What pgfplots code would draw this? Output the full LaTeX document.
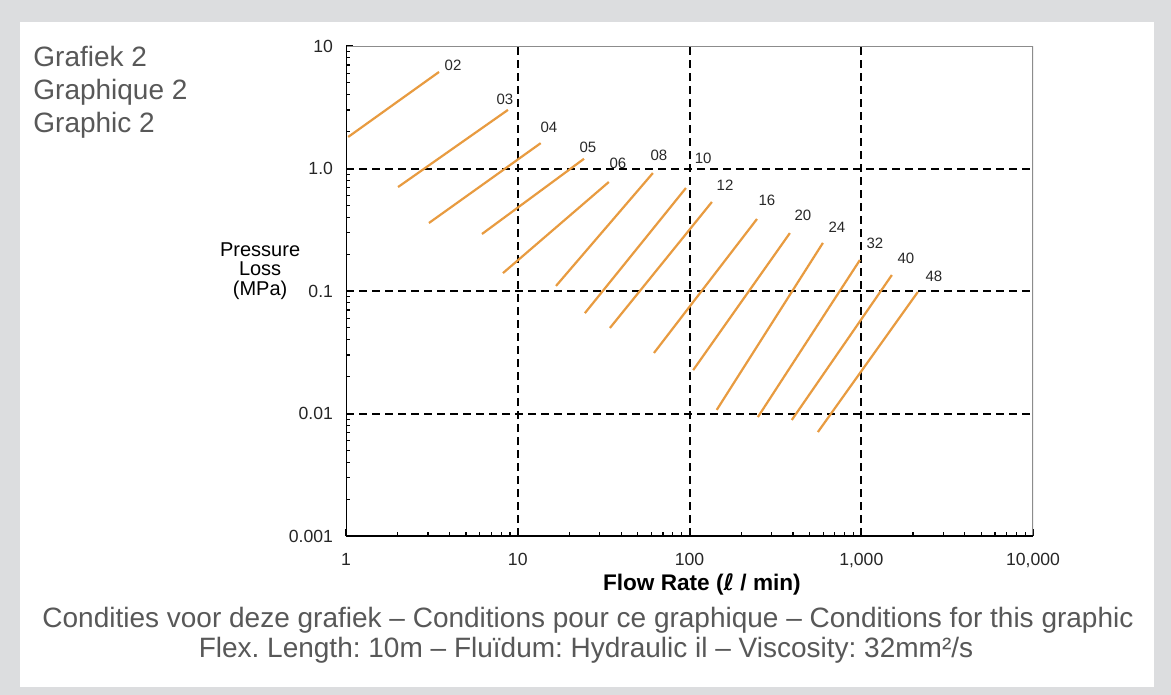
\documentclass[border=0pt]{standalone}
\usepackage{fontspec}
\setmainfont{Liberation Sans}
\newfontfamily\dejavu{DejaVu Sans}
\usepackage{pgfplots}
\pgfplotsset{compat=1.18}
\frenchspacing

\definecolor{hose}{RGB}{232,155,64}
\definecolor{framegray}{RGB}{220,221,223}
\definecolor{txt}{RGB}{88,88,88}
\definecolor{lbl}{RGB}{40,40,40}
\pgfplotsset{hoseline/.style={hose, line width=1.1pt, solid, mark=none}}

\begin{document}
\begin{tikzpicture}[lab/.style={font=\fontsize{7.5}{8}\selectfont, text=lbl, inner sep=0pt}]
% frame around the whole graphic
\fill[framegray] (0pt,0pt) rectangle (585.5pt,347.5pt);
\fill[white] (10pt,4pt) rectangle (577pt,336.5pt);

\node[anchor=base west, txt, font=\fontsize{14}{16}\selectfont, inner sep=0pt] at (16.5pt,314pt) {Grafiek 2};
\node[anchor=base west, txt, font=\fontsize{14}{16}\selectfont, inner sep=0pt] at (16.5pt,297.5pt) {Graphique 2};
\node[anchor=base west, txt, font=\fontsize{14}{16}\selectfont, inner sep=0pt] at (16.5pt,281pt) {Graphic 2};

\begin{axis}[
    at={(173pt,79.5pt)}, anchor=south west,
    scale only axis, width=343.5pt, height=245pt,
    xmode=log, ymode=log,
    xmin=1, xmax=10000, ymin=0.001, ymax=10,
    axis line style={draw=none},
    tick pos=left,
    xtick={1,10,100,1000,10000},
    xticklabels={1,10,100,{1,000},{10,000}},
    ytick={0.001,0.01,0.1,1,10},
    yticklabels={0.001,0.01,0.1,1.0,10},
    minor xtick={2,3,4,5,6,7,8,9,20,30,40,50,60,70,80,90,200,300,400,500,600,700,800,900,2000,3000,4000,5000,6000,7000,8000,9000},
    minor ytick={0.002,0.003,0.004,0.005,0.006,0.007,0.008,0.009,0.02,0.03,0.04,0.05,0.06,0.07,0.08,0.09,0.2,0.3,0.4,0.5,0.6,0.7,0.8,0.9,2,3,4,5,6,7,8,9},
    extra x ticks={10,100,1000}, extra x tick labels={},
    extra y ticks={0.01,0.1,1}, extra y tick labels={},
    extra tick style={grid=major},
    major grid style={black, line width=1pt, dash pattern=on 4pt off 2.5pt},
    tick style={black, line width=0.6pt},
    major tick length=3.5pt, minor tick length=2pt,
    ticklabel style={font=\fontsize{8.8}{10}\selectfont, text=black!85},
    xticklabel style={yshift=-5pt},
    yticklabel style={xshift=-3pt},
    xlabel={\textbf{Flow Rate ({\dejavu\bfseries ℓ} / min)}},
    xlabel style={at={(rel axis cs:0.518,0)}, anchor=center, yshift=-24pt, font=\fontsize{11.3}{13}\selectfont},
    ylabel={Pressure\\Loss\\(MPa)},
    ylabel style={at={(rel axis cs:-0.125,0.541)}, anchor=center, rotate=-90, align=center, font=\fontsize{10}{9.8}\selectfont},
]
\addplot[hoseline] coordinates {(1.03,1.81) (3.48,6.14)};     % 02
\addplot[hoseline] coordinates {(2.01,0.706) (8.77,3.01)};    % 03
\addplot[hoseline] coordinates {(3.04,0.359) (13.6,1.61)};    % 04
\addplot[hoseline] coordinates {(6.19,0.292) (24.3,1.20)};    % 05
\addplot[hoseline] coordinates {(8.20,0.140) (33.9,0.776)};   % 06
\addplot[hoseline] coordinates {(16.7,0.110) (61.2,0.918)};   % 08
\addplot[hoseline] coordinates {(24.6,0.066) (95.3,0.693)};   % 10
\addplot[hoseline] coordinates {(34.4,0.0499) (135,0.533)};   % 12
\addplot[hoseline] coordinates {(62.1,0.0312) (247,0.387)};   % 16
\addplot[hoseline] coordinates {(105,0.0226) (384,0.297)};    % 20
\addplot[hoseline] coordinates {(144,0.0107) (598,0.247)};    % 24
\addplot[hoseline] coordinates {(250,0.00935) (982,0.179)};   % 32
\addplot[hoseline] coordinates {(394,0.00885) (1507,0.135)};  % 40
\addplot[hoseline] coordinates {(559,0.00706) (2135,0.0982)}; % 48

\node[lab] at (axis cs:4.20,7.0) {02};
\node[lab] at (axis cs:8.42,3.69) {03};
\node[lab] at (axis cs:15.2,2.18) {04};
\node[lab] at (axis cs:25.6,1.50) {05};
\node[lab] at (axis cs:38.3,1.11) {06};
\node[lab] at (axis cs:66.4,1.29) {08};
\node[lab] at (axis cs:120,1.22) {10};
\node[lab] at (axis cs:161,0.733) {12};
\node[lab] at (axis cs:282,0.553) {16};
\node[lab] at (axis cs:457,0.417) {20};
\node[lab] at (axis cs:721,0.333) {24};
\node[lab] at (axis cs:1200,0.247) {32};
\node[lab] at (axis cs:1820,0.186) {40};
\node[lab] at (axis cs:2650,0.132) {48};

% box: grey top/right, black left/bottom
\draw[black!45, line width=1pt] (rel axis cs:0,1) -- (rel axis cs:1,1) -- (rel axis cs:1,0);
\draw[black, line width=1.3pt] (rel axis cs:0,1) -- (rel axis cs:0,0) -- (rel axis cs:1,0);
\end{axis}

\node[anchor=base, txt, font=\fontsize{14}{16}\selectfont, inner sep=0pt] at (294pt,33.5pt)
  {Condities voor deze grafiek – Conditions pour ce graphique – Conditions for this graphic};
\node[anchor=base, txt, font=\fontsize{14}{16}\selectfont, inner sep=0pt] at (293pt,18.5pt)
  {Flex. Length: 10m – Fluïdum: Hydraulic il – Viscosity: 32mm²/s};

\pgfresetboundingbox
\useasboundingbox (0pt,0pt) rectangle (585.5pt,347.5pt);
\end{tikzpicture}
\end{document}
